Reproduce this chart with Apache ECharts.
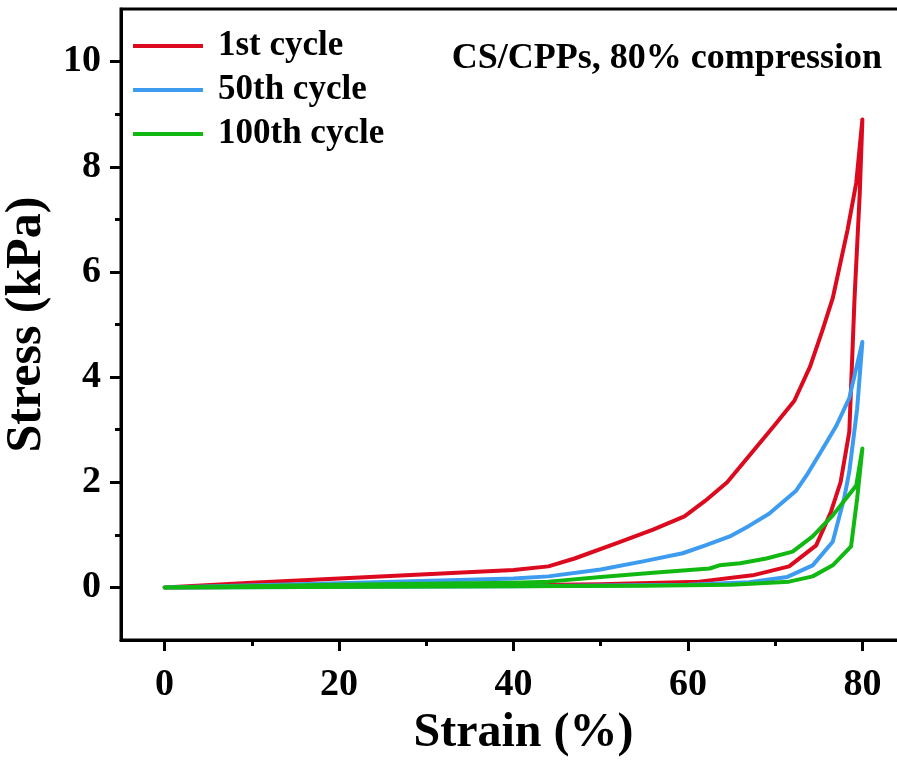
<!DOCTYPE html>
<html>
<head>
<meta charset="utf-8">
<script src="https://cdn.jsdelivr.net/npm/echarts@6/dist/echarts.min.js"></script>
<style>
  html, body { margin: 0; padding: 0; background: #fff; }
  #chart { width: 897px; height: 762px; }
</style>
</head>
<body>
<div id="chart"></div>
<script>
// loop per cycle: loading branch 0 -> 80 %, then unloading branch back to 0
const cycle1Strain = [0, 10, 20, 30, 40, 44, 47, 52, 56, 59.6, 62, 64.5, 67, 70, 72.2, 74, 75.4, 76.6, 78.3, 79.3, 80,
  79.7, 79.1, 78.5, 77.5, 76.4, 74.7, 71.6, 67.4, 61.3, 50, 40, 20, 0]
const cycle1Stress = [0, 0.09, 0.17, 0.25, 0.33, 0.40, 0.55, 0.85, 1.1, 1.35, 1.65, 2.0, 2.5, 3.1, 3.55, 4.2, 4.88, 5.5, 6.8, 7.7, 8.9,
  7.5, 5.5, 2.96, 2.0, 1.44, 0.8, 0.4, 0.23, 0.11, 0.06, 0.04, 0.02, 0]

const cycle50Strain = [0, 20, 40, 44, 50, 55, 59.4, 62, 64.8, 67, 69.3, 72.4, 73.6, 75.5, 77, 78.5, 80,
  79.4, 78.5, 77.9, 76.6, 74.3, 71.4, 67, 60, 40, 0]
const cycle50Stress = [0, 0.08, 0.17, 0.21, 0.34, 0.5, 0.65, 0.8, 0.97, 1.17, 1.4, 1.84, 2.13, 2.65, 3.07, 3.6, 4.67,
  3.4, 2.2, 1.69, 0.87, 0.42, 0.2, 0.1, 0.05, 0.02, 0]

const cycle100Strain = [0, 20, 40, 44, 50, 56, 62.5, 63.6, 66, 69, 72, 74.3, 76.6, 79.3, 80,
  79.4, 78.7, 76.6, 74.3, 71.6, 65, 55, 40, 0]
const cycle100Stress = [0, 0.05, 0.09, 0.11, 0.2, 0.28, 0.36, 0.42, 0.46, 0.55, 0.68, 0.97, 1.37, 1.94, 2.64,
  1.69, 0.78, 0.42, 0.21, 0.11, 0.05, 0.03, 0.02, 0]

const seriesNames = ['1st cycle', '50th cycle', '100th cycle']
const seriesColors = ['#db0a1e', '#3d9cf0', '#12b812']

const xMajorTicks = [0, 20, 40, 60, 80]
const xMinorTicks = [10, 30, 50, 70]
const yMajorTicks = [0, 2, 4, 6, 8, 10]
const yMinorTicks = [1, 3, 5, 7, 9]

const annotation = 'CS/CPPs, 80% compression'

const zip = (xs, ys) => xs.map((x, i) => [x, ys[i]])
const loops = [
  zip(cycle1Strain, cycle1Stress),
  zip(cycle50Strain, cycle50Stress),
  zip(cycle100Strain, cycle100Stress)
]

const font = '"Liberation Serif", "Times New Roman", serif'
const chart = echarts.init(document.getElementById('chart'))

const axisLine = { show: true, onZero: false, lineStyle: { color: '#000', width: 3 } }
const hiddenLine = { show: false, onZero: false }
const tickStyle = { width: 3, color: '#000' }
const labelFont = { fontFamily: font, fontWeight: 'bold', fontSize: 38, color: '#000' }

chart.setOption({
  animation: false,
  backgroundColor: '#fff',
  grid: {
    left: 121, top: 9, width: 785, height: 631,
    outerBoundsMode: 'none',
    containLabel: false,
    show: true, borderColor: '#000', borderWidth: 3
  },
  xAxis: [
    {
      type: 'value', min: -5, max: 85,
      splitLine: { show: false }, axisLine,
      name: 'Strain (%)', nameLocation: 'middle', nameGap: 70,
      nameTextStyle: { fontFamily: font, fontWeight: 'bold', fontSize: 48, color: '#000', padding: [0, 0, 0, 20] },
      axisTick: { show: true, customValues: xMajorTicks, length: 11, lineStyle: tickStyle },
      axisLabel: { customValues: xMajorTicks, margin: 26, ...labelFont }
    },
    {
      type: 'value', min: -5, max: 85, position: 'bottom',
      splitLine: { show: false }, axisLine: hiddenLine,
      axisTick: { show: true, customValues: xMinorTicks, length: 6, lineStyle: tickStyle },
      axisLabel: { show: false }
    }
  ],
  yAxis: [
    {
      type: 'value', min: -1, max: 11,
      splitLine: { show: false }, axisLine,
      name: 'Stress (kPa)', nameLocation: 'middle', nameGap: 68,
      nameTextStyle: { fontFamily: font, fontWeight: 'bold', fontSize: 50, color: '#000' },
      axisTick: { show: true, customValues: yMajorTicks, length: 11, lineStyle: tickStyle },
      axisLabel: { customValues: yMajorTicks, margin: 20, ...labelFont }
    },
    {
      type: 'value', min: -1, max: 11, position: 'left',
      splitLine: { show: false }, axisLine: hiddenLine,
      axisTick: { show: true, customValues: yMinorTicks, length: 6, lineStyle: tickStyle },
      axisLabel: { show: false }
    }
  ],
  legend: {
    orient: 'vertical',
    left: 133, top: 28, padding: 0,
    itemWidth: 70, itemHeight: 4, itemGap: 8,
    icon: 'rect',
    data: seriesNames,
    textStyle: { fontFamily: font, fontWeight: 'bold', fontSize: 35, color: '#000', lineHeight: 36, padding: [0, 0, 0, 10] }
  },
  graphic: [{
    type: 'text', right: 15, top: 41,
    style: { text: annotation, fontFamily: font, fontWeight: 'bold', fontSize: 36, fill: '#000' }
  }],
  series: loops.map((data, i) => ({
    type: 'line',
    name: seriesNames[i],
    data,
    symbol: 'none',
    smooth: false,
    color: seriesColors[i],
    lineStyle: { width: 4, color: seriesColors[i], join: 'round', cap: 'round' }
  }))
})
</script>
</body>
</html>
